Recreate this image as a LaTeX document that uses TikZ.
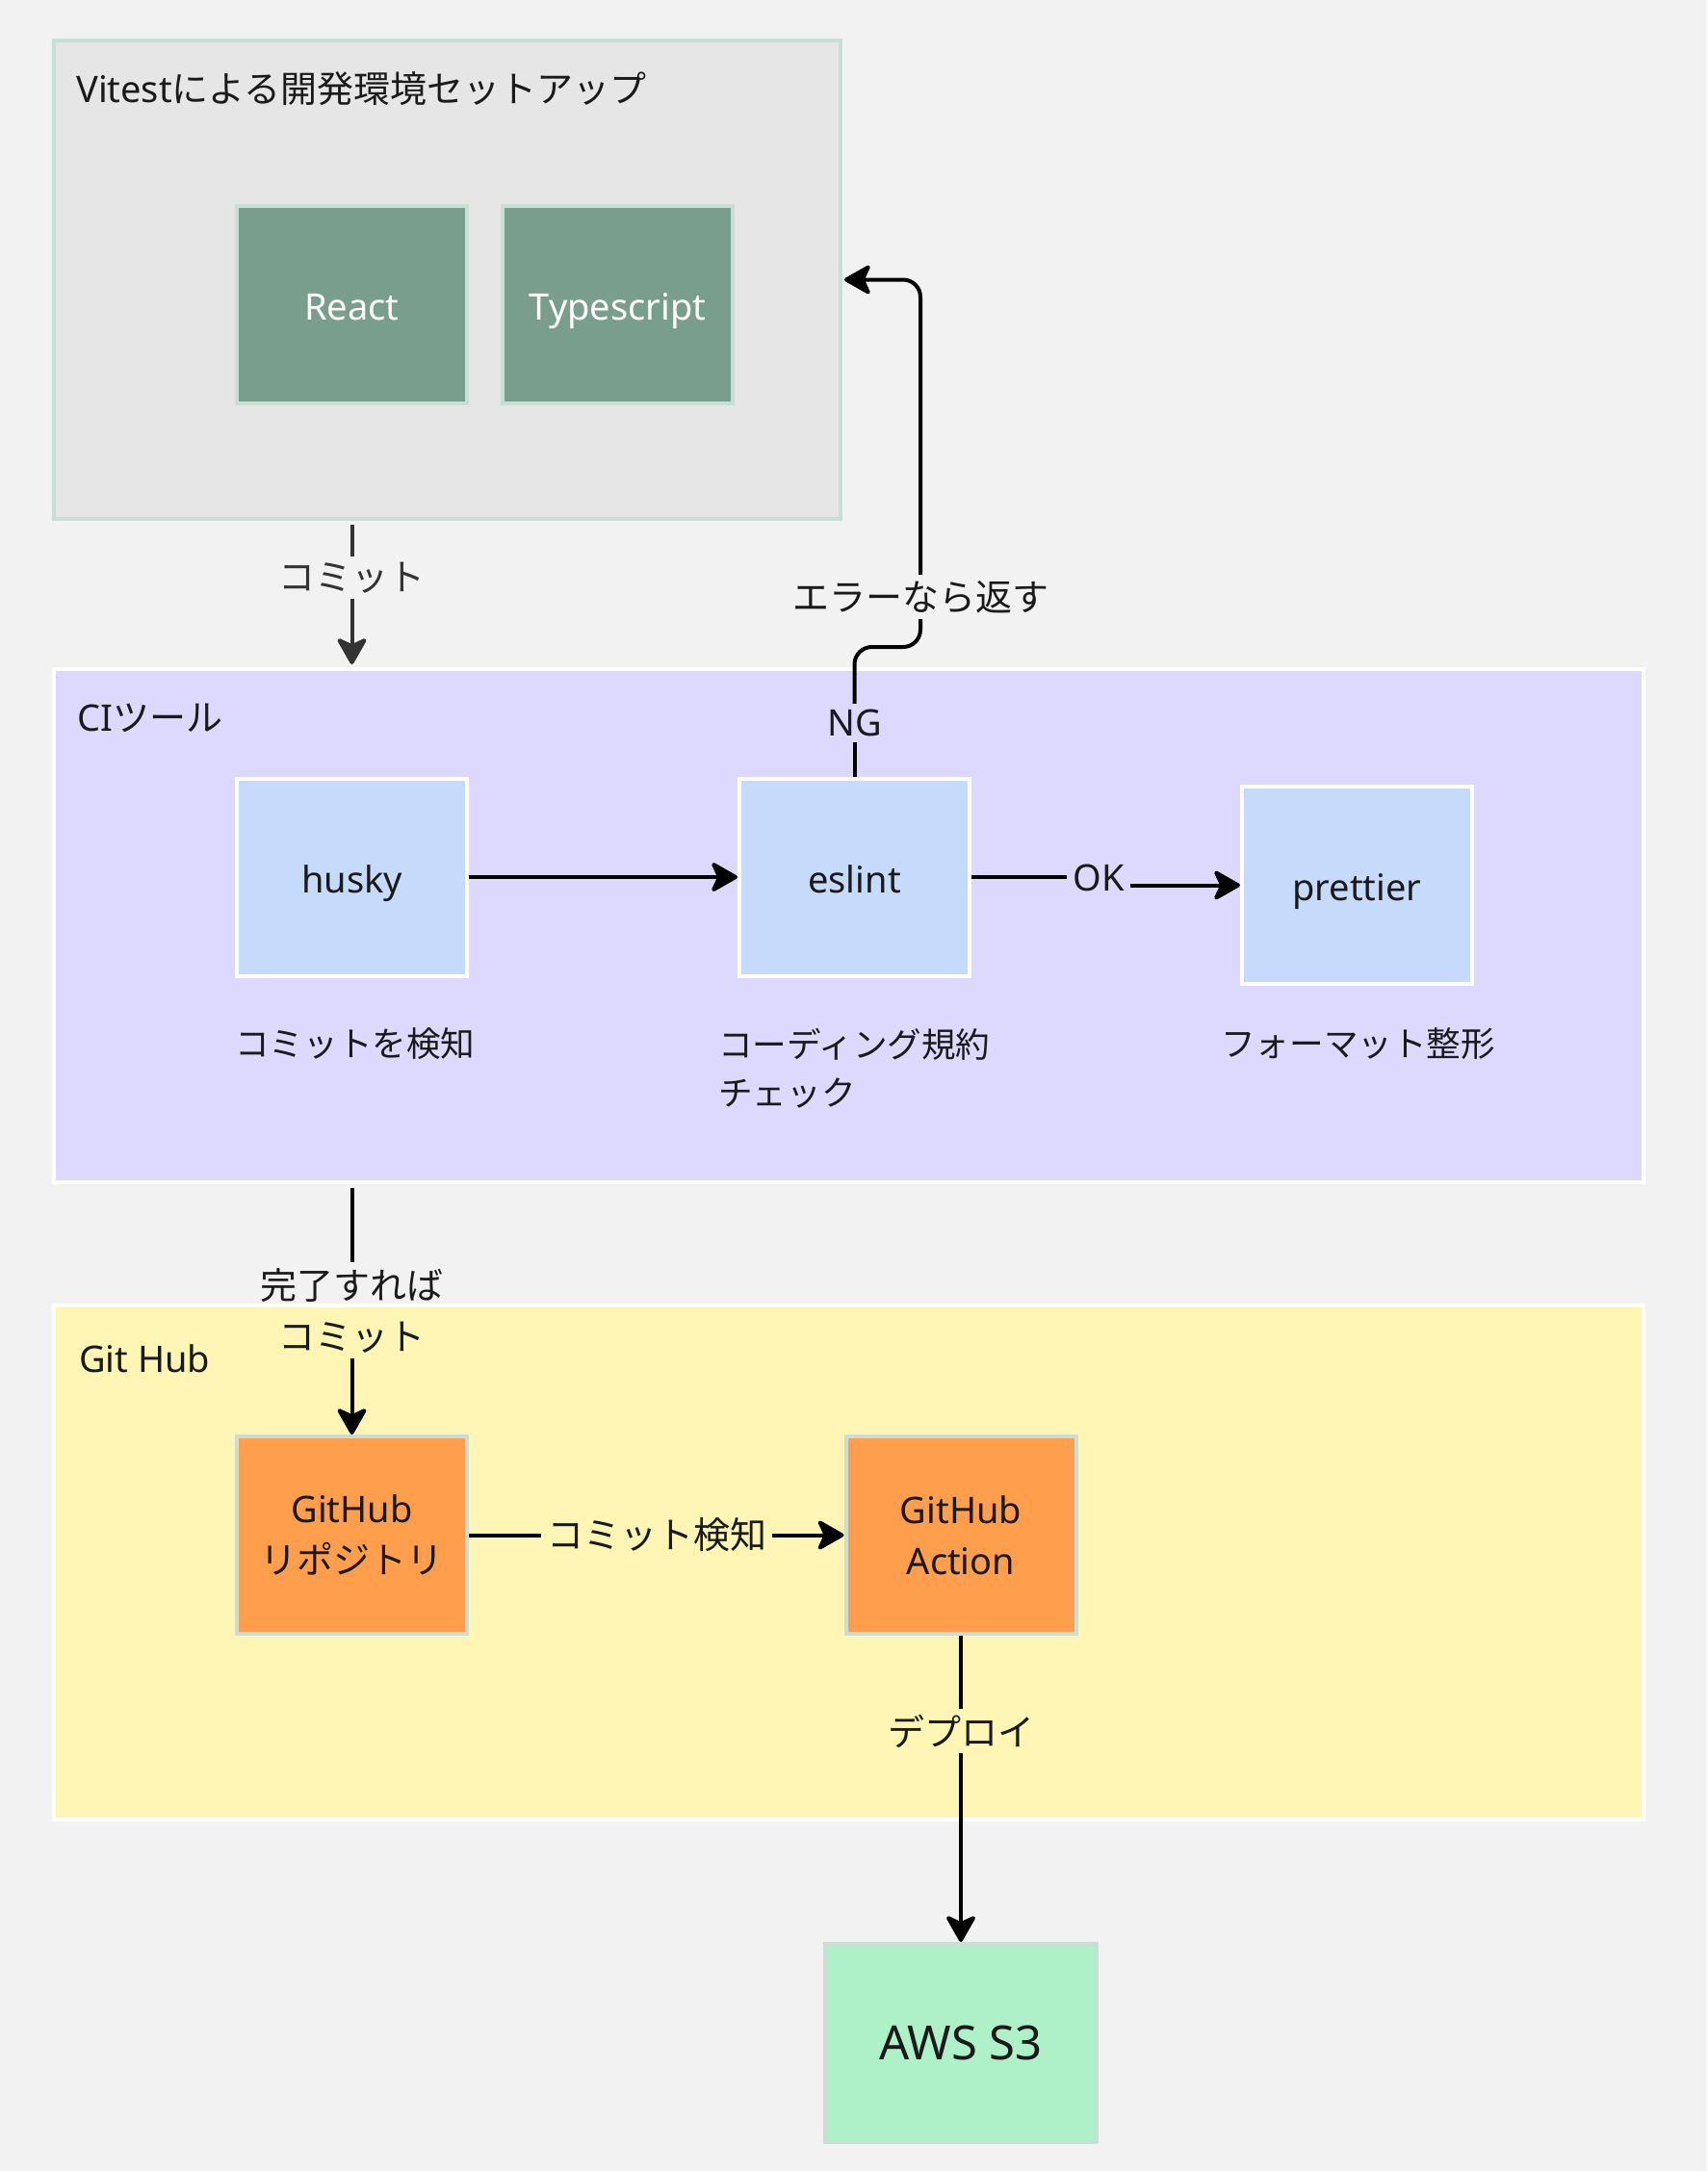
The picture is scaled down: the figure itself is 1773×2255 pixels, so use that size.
\documentclass[tikz,border=0pt]{standalone}
\usepackage{fontspec}
\setmainfont{Noto Sans}
\newfontfamily\jp{Noto Sans CJK JP}
\usetikzlibrary{arrows.meta}
\definecolor{bg}{HTML}{F2F2F2}
\definecolor{vitbg}{HTML}{E6E6E6}
\definecolor{mintbd}{HTML}{C9DFD6}
\definecolor{reactc}{HTML}{7A9E8E}
\definecolor{cibg}{HTML}{DDD8FE}
\definecolor{bluec}{HTML}{C6DBFC}
\definecolor{ghbg}{HTML}{FFF5B4}
\definecolor{orangec}{HTML}{FF9F4D}
\definecolor{awsc}{HTML}{AEF0C8}
\definecolor{dk}{HTML}{333333}
\definecolor{tx}{HTML}{1A1A1A}
\newcommand\fs{\fontsize{38}{53}\selectfont}
\newcommand\fd{\fontsize{35.6}{50}\selectfont}
\newcommand\fb{\fontsize{49}{60}\selectfont}
\tikzset{
  grp/.style={draw, line width=4pt, inner sep=0pt},
  box/.style={draw, line width=4pt, minimum width=239pt, minimum height=205pt,
              inner sep=0pt, align=center, font=\fs, text=tx},
  one/.style={text height=32pt, text depth=0pt},
  conn/.style={line width=4pt, draw=black},
  tip/.style={-{Stealth[length=31pt,width=35pt,inset=8pt,round]}},
  elabel/.style={font=\fs, inner sep=6pt, align=center, text=tx},
  ttl/.style={font=\fs, anchor=west, inner sep=0pt, text=tx},
  desc/.style={font=\fd, anchor=west, inner sep=0pt, align=left, text=tx}
}
\begin{document}
\begin{tikzpicture}[x=1pt,y=-1pt]
\useasboundingbox (0,0) rectangle (1773,2255);
\fill[bg] (0,0) rectangle (1773,2255);

% groups
\node[grp, fill=vitbg, draw=mintbd, minimum width=817pt, minimum height=497pt] (vit) at (464.5,290.5) {};
\node[ttl] (vittitle) at (79,92) {Vitest{\jp による開発環境セットアップ}};
\node[grp, fill=cibg, draw=white, minimum width=1651pt, minimum height=533pt] (ci) at (881.5,961.5) {};
\node[ttl] (cititle) at (80,746) {CI{\jp ツール}};
\node[grp, fill=ghbg, draw=white, minimum width=1651pt, minimum height=534pt] (gh) at (881.5,1623) {};
\node[ttl] (ghtitle) at (82,1411) {Git Hub};

% nodes
\node[box, one, fill=reactc, draw=mintbd, text=white] (react) at (365.5,316) {React};
\node[box, one, fill=reactc, draw=mintbd, text=white] (ts) at (641.5,316) {Typescript};

\node[box, one, fill=bluec, draw=white] (husky) at (365.5,911) {husky};
\node[box, one, fill=bluec, draw=white] (eslint) at (887.5,911) {eslint};
\node[box, one, fill=bluec, draw=white] (prettier) at (1409.5,919.5) {prettier};
\node[desc] (d1) at (244,1084) {\jp コミットを検知};
\node[desc] (d2) at (746,1109.5) {\jp コーディング規約\\\jp チェック};
\node[desc] (d3) at (1268,1084) {\jp フォーマット整形};

\node[box, fill=orangec, draw=mintbd] (repo) at (365.5,1594.5) {GitHub\\{\jp リポジトリ}};
\node[box, fill=orangec, draw=mintbd] (action) at (998,1594.5) {GitHub\\Action};
\node[box, fill=awsc, draw=mintbd, minimum width=282pt, minimum height=206pt, font=\fb, text height=34pt, text depth=0pt] (aws) at (998,2122) {AWS S3};

% edge labels
\node[elabel, text=dk] (c1) at (365.5,600) {\jp コミット};
\node[elabel] (ng) at (887.5,751) {NG};
\node[elabel] (err) at (956,620) {\jp エラーなら返す};
\node[elabel] (ok) at (1141,912) {OK};
\node[elabel] (c2) at (365.5,1361) {\jp 完了すれば\\\jp コミット};
\node[elabel] (c3) at (682,1594.5) {\jp コミット検知};
\node[elabel] (c4) at (998,1798) {\jp デプロイ};
\coordinate (bend) at (0,672);

% connectors
\draw[conn, draw=dk] ([yshift=-4pt]c1 |- vit.south) -- (c1.north);
\draw[conn, draw=dk, tip] (c1.south) -- ([yshift=3pt]c1 |- ci.north);

\draw[conn, tip] (husky.east) -- (eslint.west);
\draw[conn] (eslint.east) -- (ok.west |- eslint.east);
\draw[conn, tip] (ok.east |- prettier.west) -- (prettier.west);

\draw[conn] (eslint.north) -- (ng.south);
\draw[conn, rounded corners=18pt] (ng.north) -- (ng.north |- bend) -- (err.south |- bend) -- (err.south);
\draw[conn, tip, rounded corners=18pt] (err.north) |- ([xshift=2pt]vit.east);

\draw[conn] ([yshift=-4pt]c2 |- ci.south) -- (c2.north);
\draw[conn, tip] (c2.south) -- (repo.north);

\draw[conn] (repo.east) -- (c3.west);
\draw[conn, tip] (c3.east) -- (action.west);

\draw[conn] (action.south) -- (c4.north);
\draw[conn, tip] (c4.south) -- (aws.north);
\end{tikzpicture}
\end{document}
